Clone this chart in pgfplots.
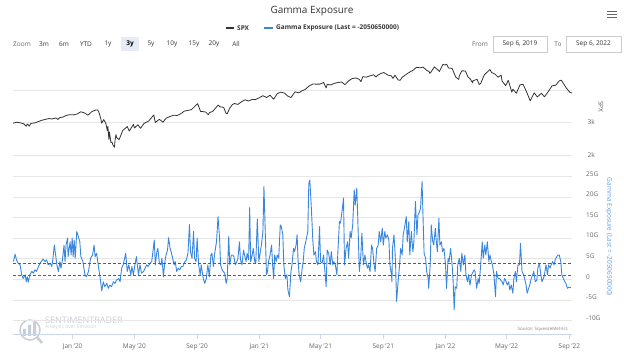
\documentclass[border=0pt]{standalone}
\usepackage{fontspec}
\setmainfont{Open Sans}
\usepackage{pgfplots}
\pgfplotsset{compat=1.18}
\definecolor{gridc}{HTML}{E6E6E6}
\definecolor{axc}{HTML}{CCD6EB}
\definecolor{txt}{HTML}{666666}
\definecolor{dark}{HTML}{333333}
\definecolor{gblue}{HTML}{3A86DD}
\definecolor{glab}{HTML}{5B9BE0}
\definecolor{wm}{HTML}{C9CED6}
\definecolor{btn}{HTML}{E6EBF5}
\definecolor{boxc}{HTML}{CCCCCC}
\definecolor{redref}{HTML}{E8201C}
\definecolor{greenref}{HTML}{1E8C1E}

\pgfplotstableread{
day val
0 2979
7 3007
14 2992
21 2961
26 2887
28 2952
32 2893
35 2970
42 2986
49 3023
56 3067
63 3093
70 3120
77 3110
84 3141
88 3093
91 3146
98 3169
105 3221
112 3240
119 3235
126 3265
133 3330
140 3295
147 3225
154 3328
161 3380
166 3386
168 3338
172 3128
174 2979
178 3090
182 2972
185 2747
186 2882
188 2481
189 2711
192 2386
194 2398
196 2305
199 2237
200 2447
202 2630
203 2541
208 2471
215 2750
224 2875
228 2737
236 2939
238 2830
245 2930
250 2820
257 2972
266 3044
276 3232
279 3002
287 3098
294 3009
300 3130
308 3185
315 3225
322 3216
329 3271
336 3351
343 3373
350 3397
357 3508
362 3580
368 3331
371 3341
378 3319
383 3237
385 3298
392 3348
402 3535
406 3484
413 3465
418 3271
420 3270
425 3443
430 3550
434 3585
441 3557
448 3638
455 3699
462 3663
469 3709
475 3703
482 3756
490 3824
497 3768
504 3841
509 3751
511 3714
518 3887
525 3934
532 3907
539 3811
545 3768
553 3943
560 3913
567 3975
573 4020
581 4129
588 4185
595 4180
602 4181
609 4233
614 4063
616 4174
623 4156
630 4204
637 4230
644 4247
651 4166
658 4281
665 4352
672 4370
679 4327
682 4258
686 4412
693 4395
700 4437
707 4468
712 4400
714 4442
721 4509
727 4537
735 4459
742 4433
745 4358
749 4455
755 4308
759 4300
763 4391
770 4471
777 4545
784 4605
791 4697
798 4683
804 4704
812 4595
816 4567
817 4513
819 4538
826 4712
833 4620
836 4568
843 4791
847 4766
850 4796
854 4677
861 4663
868 4398
874 4326
875 4432
880 4589
887 4587
892 4401
896 4349
901 4225
902 4288
910 4329
914 4170
917 4204
924 4463
935 4631
938 4546
945 4488
951 4393
957 4460
959 4272
966 4132
971 4300
978 3935
980 4024
987 3901
994 4158
1000 4177
1008 3901
1014 3666
1022 3912
1028 3785
1036 3899
1042 3790
1050 3962
1057 4130
1064 4145
1071 4280
1075 4305
1078 4228
1085 4058
1092 3924
1096 3908
}\spxdata

\pgfplotstableread{
day val
1 4.3
4 6.1
7 4.7
10 3.9
14 3.5
17 1.1
20 0.2
24 1.1
26 -0.6
28 0.6
30 -0.7
33 1.1
37 1.9
40 1.5
43 2.3
46 1.9
50 3.1
53 3.9
56 4.4
59 4.9
63 4.3
66 4.7
69 3.5
73 3.9
76 3.1
78 4.7
81 8.3
84 5.5
86 3.5
89 1.9
92 4.3
94 2.7
97 4.7
100 8.3
102 4.3
104 8.3
107 10.0
108 5.5
112 9.1
114 5.9
116 10.0
118 5.5
120 9.5
122 5.1
125 11.6
128 10.4
131 9.1
133 5.5
137 4.3
141 1.1
144 0.6
148 1.9
152 5.1
156 5.9
159 8.3
161 5.5
164 6.3
167 3.5
171 0.2
174 -2.8
177 -0.6
180 -1.8
184 -1.0
187 -2.2
190 -1.4
193 -1.8
197 -0.6
200 -1.0
203 -0.2
207 0.2
210 -0.6
213 2.7
216 3.5
221 6.3
224 1.9
227 3.5
231 1.1
233 3.1
236 1.1
239 3.5
242 5.5
246 1.1
249 3.5
252 1.5
256 1.9
259 2.7
262 3.5
265 3.1
269 3.9
272 4.3
277 9.5
279 3.5
282 6.7
284 7.5
287 3.9
290 3.5
292 5.1
295 0.6
297 3.5
300 5.9
303 7.1
305 10.1
308 7.5
310 6.7
313 5.1
316 3.5
318 4.3
321 1.9
324 2.7
327 2.3
330 3.1
333 3.1
337 4.3
340 4.7
343 6.3
346 13.3
348 6.7
351 5.1
354 11.6
356 5.1
359 4.3
361 10.0
364 3.5
367 1.1
369 3.5
373 0.2
376 -1.0
379 0.2
382 3.5
385 0.6
388 5.9
390 6.3
393 3.1
395 5.9
399 9.1
402 15.2
405 10.0
407 3.5
410 2.3
412 1.9
415 1.5
418 -1.0
420 0.2
423 10.4
425 3.5
428 5.9
431 5.9
433 5.5
436 3.5
439 4.3
441 5.1
444 9.1
446 4.7
449 3.5
452 7.1
454 5.9
457 4.3
459 6.3
462 4.7
464 17.4
466 4.3
469 5.9
471 7.5
474 4.3
476 3.9
479 14.6
482 4.3
484 5.9
487 8.3
490 11.6
492 22.5
494 14.0
497 1.1
499 1.9
501 4.3
504 5.9
507 8.3
509 3.5
511 0.2
513 5.9
516 4.3
518 5.9
521 5.1
524 13.2
526 12.8
529 10.8
531 3.5
534 0.2
537 1.1
539 -2.6
542 -4.2
545 1.9
547 3.5
550 7.5
552 6.7
555 8.3
557 10.8
559 4.3
561 1.1
564 -0.6
567 2.7
569 4.3
571 7.5
574 9.1
578 11.6
580 23.3
582 24.1
585 17.2
588 9.1
590 5.9
593 6.7
595 4.3
598 3.5
601 12.8
603 4.3
606 3.9
609 5.9
611 2.7
614 -1.8
616 7.1
619 6.3
622 3.5
624 6.7
627 3.5
629 4.3
632 3.5
635 1.1
637 6.7
640 14.0
642 13.6
645 16.4
648 19.7
650 3.5
653 7.5
656 9.1
658 5.1
661 11.6
663 10.0
666 13.2
669 21.7
671 18.0
674 22.1
676 14.8
679 1.9
682 5.9
684 11.2
687 3.5
690 5.9
692 4.3
695 2.7
697 3.5
700 1.9
703 8.3
705 7.5
708 3.5
710 1.9
713 7.5
716 8.3
718 11.6
721 9.1
724 12.4
726 8.3
729 11.6
731 10.0
734 10.8
737 9.5
739 3.5
742 1.1
743 -0.6
744 7.5
747 10.8
750 4.3
752 -5.4
755 -0.6
758 3.5
760 7.5
763 5.9
765 10.8
768 12.8
771 15.2
773 9.1
776 14.0
778 5.9
781 11.6
784 6.7
786 9.1
789 18.9
792 10.8
794 15.6
797 16.4
799 17.2
802 23.7
804 14.8
806 6.3
809 5.1
811 1.9
814 0.2
815 -2.2
818 3.5
820 13.2
823 9.1
825 8.3
828 12.4
830 9.1
832 6.7
835 14.8
837 8.3
840 9.1
842 6.7
845 7.5
848 3.5
850 -2.2
853 5.1
855 4.3
858 7.5
861 3.5
863 -0.6
865 -7.4
867 -1.8
870 -2.2
872 3.5
875 5.1
878 1.9
880 6.3
883 3.5
886 5.9
888 1.1
891 -0.6
893 1.1
896 -1.4
899 1.1
901 1.5
904 2.3
906 1.9
909 -2.2
912 0.2
914 -1.0
917 3.5
920 9.1
922 5.1
925 8.3
927 5.9
930 9.1
933 4.3
935 5.9
938 4.3
940 3.5
943 1.1
946 -4.2
948 1.9
951 0.2
954 0.2
956 -0.2
959 -0.6
961 -1.4
964 0.2
967 -0.6
969 -1.4
972 -0.6
974 -2.6
977 -1.4
980 -3.4
982 0.2
985 1.9
987 -0.6
990 3.5
993 3.5
995 8.7
998 1.9
1001 1.1
1003 0.2
1006 -1.4
1008 -3.4
1011 -2.2
1014 -1.0
1016 0.2
1019 1.1
1021 1.9
1024 -0.6
1027 -0.2
1029 2.7
1032 3.9
1035 1.1
1037 -0.6
1040 0.2
1042 1.1
1045 3.5
1048 1.1
1050 3.5
1053 2.7
1055 3.5
1058 4.3
1061 3.5
1063 4.7
1066 5.5
1069 5.9
1071 5.9
1074 4.3
1076 1.1
1079 0.2
1082 -0.6
1084 -1.0
1087 -2.2
1090 -1.9
1094 -2.05
}\gexdata

\begin{document}
\begin{tikzpicture}
\useasboundingbox (0pt,0pt) rectangle (624pt,356pt);

% ---------- header (title, legend, range selector) ----------
\node[font=\fontsize{10}{12}\selectfont, text=dark] at (312pt,345pt) {Gamma Exposure};
\draw[txt, line width=1.4pt] (607pt,344.5pt) -- (617pt,344.5pt) (607pt,341.5pt) -- (617pt,341.5pt) (607pt,338.5pt) -- (617pt,338.5pt);
\draw[dark, line width=1.2pt] (226pt,328pt) -- (234pt,328pt);
\node[font=\fontsize{6.5}{8}\selectfont\bfseries, text=dark, anchor=west, inner sep=0pt] at (237pt,328pt) {SPX};
\draw[gblue, line width=1.2pt] (264pt,328pt) -- (273pt,328pt);
\node[font=\fontsize{6.5}{8}\selectfont\bfseries, text=dark, anchor=west, inner sep=0pt] at (276pt,328pt) {Gamma Exposure (Last = -2050650000)};

\begin{scope}[font=\fontsize{6.5}{8}\selectfont]
\node[text=txt, anchor=west, inner sep=0pt] at (13pt,312pt) {Zoom};
\fill[btn] (121pt,305pt) rectangle (139pt,319pt);
\foreach \xx/\lab in {44/3m, 64/6m, 86/YTD, 108/1y, 151/5y, 172/10y, 194/15y, 214/20y, 236/All}
  \node[text=dark] at (\xx pt,312pt) {\lab};
\node[text=black] at (130pt,312pt) {\textbf{3y}};
\node[text=txt] at (480pt,312pt) {From};
\draw[boxc, fill=white] (493pt,304pt) rectangle (547pt,320pt);
\node[text=dark] at (520pt,312pt) {Sep 6, 2019};
\node[text=txt] at (558pt,312pt) {To};
\draw[boxc, fill=white] (566pt,304pt) rectangle (621pt,320pt);
\node[text=dark] at (593.5pt,312pt) {Sep 6, 2022};
\end{scope}

% ---------- watermark ----------
\begin{scope}[wm]
\draw[line width=1.5pt] (30pt,26pt) circle (10pt);
\fill (23pt,20pt) rectangle (26pt,27pt) (28pt,20pt) rectangle (31pt,31pt) (33pt,20pt) rectangle (36pt,34pt);
\draw[line width=2.5pt] (37pt,19pt) -- (42pt,13pt);
\node[font=\fontsize{9}{10}\selectfont, anchor=west, inner sep=0pt] at (45pt,36pt) {SENTIMENTRADER};
\node[font=\fontsize{5}{6}\selectfont, anchor=west, inner sep=0pt] at (45pt,28.5pt) {Analysis over Emotion};
\end{scope}
\node[font=\fontsize{4.5}{5}\selectfont, text=txt!80, anchor=east, inner sep=0pt] at (568pt,27pt) {Source: SqueezeMetrics};

% ---------- SPX panel ----------
\begin{axis}[
  at={(13pt,196pt)}, anchor=south west,
  width=559pt, height=102pt, scale only axis,
  xmin=0, xmax=1096, ymin=1846, ymax=4985,
  axis line style={draw=none},
  xtick=\empty,
  ytick={2000,3000,4000}, yticklabels={2k,3k,},
  ymajorgrids, grid style={gridc, line width=0.5pt},
  major tick length=0pt,
  yticklabel pos=right,
  yticklabel style={anchor=west, xshift=12pt, font=\fontsize{6.5}{7}\selectfont, text=txt},
  /pgf/number format/assume math mode=true,
  clip=false,
]
\addplot[color=dark, line width=0.8pt, line join=round] table[x=day, y=val] {\spxdata};
\node[rotate=-90, font=\fontsize{6.5}{7}\selectfont, text=txt] at (axis description cs:1.0519,0.52) {SPX};
\end{axis}

% ---------- Gamma panel ----------
\begin{axis}[
  at={(13pt,22pt)}, anchor=south west,
  width=559pt, height=162pt, scale only axis,
  xmin=0, xmax=1096, ymin=-13.28, ymax=26.04,
  axis y line=none,
  axis x line*=bottom,
  x axis line style={axc, line width=0.8pt, -},
  xtick={117,238,361,483,603,726,848,968,1091},
  xticklabels={Jan '20,May '20,Sep '20,Jan '21,May '21,Sep '21,Jan '22,May '22,Sep '22},
  xtick style={axc, line width=0.8pt},
  tick align=outside, xtick pos=bottom,
  major tick length=5pt,
  xticklabel style={font=\fontsize{6.5}{7}\selectfont, text=txt, yshift=-1pt},
  /pgf/number format/assume math mode=true,
  clip=false,
]
\pgfplotsinvokeforeach{-10,-5,0,5,10,15,20,25}{
  \addplot[draw=gridc, line width=0.5pt, forget plot] coordinates {(0,#1) (1096,#1)};
}
\addplot[draw=gblue, line width=0.9pt, line join=round] table[x=day, y=val] {\gexdata};
\end{axis}

% ---------- red reference level (extra grid line at 3.9G) ----------
\begin{axis}[
  at={(13pt,22pt)}, anchor=south west,
  width=559pt, height=162pt, scale only axis,
  xmin=0, xmax=1096, ymin=-13.28, ymax=26.04,
  axis line style={draw=none}, xtick=\empty, ytick=\empty,
  extra y ticks={3.9}, extra y tick labels={},
  extra y tick style={grid=major, major tick length=0pt,
    major grid style={draw=redref, line width=0.9pt, dash pattern=on 3pt off 2pt}},
]
\end{axis}

% ---------- green reference level (extra grid line at 1.0G) and right-hand labels ----------
\begin{axis}[
  at={(13pt,22pt)}, anchor=south west,
  width=559pt, height=162pt, scale only axis,
  xmin=0, xmax=1096, ymin=-13.28, ymax=26.04,
  axis line style={draw=none}, xtick=\empty, ytick=\empty,
  extra y ticks={1.0}, extra y tick labels={},
  extra y tick style={grid=major, major tick length=0pt,
    major grid style={draw=greenref, line width=0.9pt, dash pattern=on 3pt off 2pt}},
  clip=false,
]
\foreach \v/\l in {-10/-10G,-5/-5G,0/0,5/5G,10/10G,15/15G,20/20G,25/25G}{
  \edef\tmp{\noexpand\node[anchor=west, font=\noexpand\fontsize{6.5}{7}\noexpand\selectfont, text=txt, inner sep=0pt] at (axis cs:1096,\v) [xshift=14pt, yshift=2.5pt] {\l};}
  \tmp
}
\node[rotate=-90, font=\fontsize{6.5}{7}\selectfont, text=glab] at (axis description cs:1.0662,0.60) {Gamma Exposure (Last = -2050650000)};
\end{axis}
\end{tikzpicture}
\end{document}
